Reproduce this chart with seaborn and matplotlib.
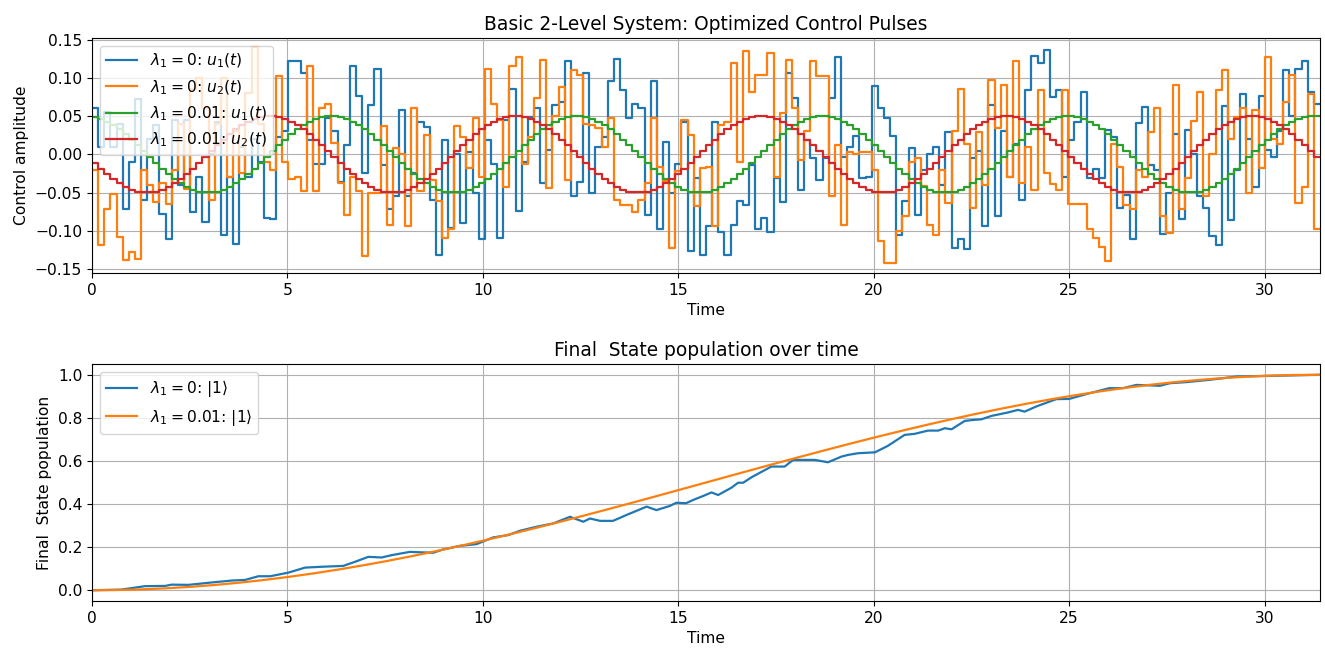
import numpy as np
import matplotlib
matplotlib.use("Agg")
import matplotlib.pyplot as plt
import seaborn as sns

# ---------------- data ----------------
T_END = 10 * np.pi
N_STEPS = 200

u1_lam0 = [
    0.060, 0.010, 0.055, 0.010, 0.040, -0.071, -0.010, 0.072, -0.060, 0.020,
    0.038, -0.078, -0.110, 0.045, -0.040, 0.045, -0.075, -0.030, -0.089, 0.000,
    0.042, -0.105, -0.030, -0.117, 0.010, -0.030, 0.020, -0.010, -0.083, -0.085,
    0.023, 0.030, 0.122, 0.122,
    0.106, 0.019, -0.012, -0.012, 0.047, 0.030, -0.036, 0.012, 0.115, 0.076,
    -0.025, 0.064, 0.111, -0.014, -0.072, -0.054, 0.058, -0.054, -0.025, 0.042,
    0.036, -0.060, -0.131, 0.019, -0.096, 0.000, -0.090, 0.003, -0.050, -0.111,
    0.019, -0.012, -0.109,
    0.045, 0.086, -0.074, -0.010, 0.049, 0.060, -0.038, 0.006, 0.064, 0.068,
    0.122, -0.055, -0.036, 0.106, -0.051, 0.010, 0.023, 0.096, 0.125, 0.084,
    0.048, 0.066, 0.060, -0.079, 0.096, -0.098, 0.016, -0.050, -0.012, 0.042,
    -0.126, -0.031, -0.131,
    -0.094, 0.042, -0.102, -0.131, -0.092, -0.061, -0.066, -0.014, -0.097, -0.083,
    -0.102, -0.031, -0.062, 0.106, 0.073, -0.046, 0.019, -0.005, -0.033, -0.005,
    0.073, 0.127, -0.003, 0.010, 0.024, -0.031, -0.030, 0.089, 0.060, 0.047,
    0.024, -0.105, -0.061, 0.008,
    -0.079, -0.020, 0.000, 0.010, -0.040, 0.029, -0.122, -0.111, -0.124, -0.005,
    0.005, -0.094, 0.064, -0.081, 0.030, -0.029, 0.013, -0.059, 0.084, 0.129,
    0.120, 0.136, 0.075, 0.084, -0.030, 0.019, 0.042, 0.081, -0.031, -0.019,
    -0.031, 0.032, 0.023,
    -0.070, -0.053, -0.111, 0.041, 0.062, -0.014, -0.020, -0.104, -0.050, 0.027,
    -0.084, 0.032, 0.000, -0.054, -0.070, -0.107, -0.118, 0.063, -0.086, -0.020,
    0.079, 0.020, -0.042, 0.076, 0.006, -0.004, 0.030, 0.110, 0.050, 0.112,
    0.122, 0.081, 0.066,
]

u2_lam0 = [
    -0.021, -0.118, -0.072, -0.052, -0.108, -0.138, -0.128, -0.137, -0.020, -0.040,
    -0.062, -0.038, -0.065, -0.020, 0.040, -0.045, 0.085, 0.100, 0.060, -0.060,
    0.040, 0.100, -0.030, 0.030, -0.025, 0.080, 0.140, 0.040, -0.010, -0.020,
    0.103, -0.010, -0.032, -0.030,
    -0.048, 0.116, -0.048, 0.060, 0.066, 0.015, -0.038, -0.079, -0.029, -0.048,
    -0.133, -0.050, -0.050, 0.037, -0.092, 0.008, 0.000, -0.094, 0.060, -0.048,
    0.025, -0.033, -0.061, -0.109, -0.097, 0.037, 0.023, -0.018, 0.048, -0.030,
    0.112, 0.066, 0.045,
    -0.042, 0.116, 0.127, -0.012, 0.023, 0.073, 0.123, -0.044, 0.050, 0.088,
    -0.034, 0.110, 0.104, 0.040, 0.038, 0.034, 0.010, 0.048, -0.059, -0.066,
    -0.066, -0.075, -0.059, -0.038, 0.048, -0.016, -0.035, -0.122, -0.022, 0.045,
    0.025, -0.068, -0.018,
    -0.016, -0.094, 0.038, 0.042, 0.119, -0.010, 0.135, 0.081, 0.104, 0.104,
    0.133, -0.029, 0.054, 0.123, 0.060, -0.008, 0.030, 0.122, 0.103, 0.103,
    -0.055, 0.012, -0.092, 0.003, 0.000, 0.003, 0.003, -0.020, -0.113, -0.142,
    -0.142, -0.100, -0.080, -0.010,
    -0.005, -0.041, -0.092, -0.106, -0.020, -0.063, 0.030, 0.086, 0.014, -0.070,
    0.029, -0.040, 0.097, 0.035, 0.090, -0.030, 0.122, -0.038, 0.010, -0.046,
    0.084, -0.024, -0.039, -0.047, 0.084, -0.065, -0.065, -0.065, -0.097, -0.109,
    -0.121, -0.139, 0.014,
    -0.016, -0.066, -0.072, -0.020, -0.029, 0.029, 0.060, -0.081, -0.103, 0.090,
    -0.072, -0.031, 0.044, 0.081, -0.055, 0.000, 0.084, 0.110, 0.020, 0.049,
    0.061, -0.050, 0.058, -0.018, 0.127, 0.020, 0.013, 0.068, 0.104, -0.063,
    -0.042, 0.079, -0.098,
]

u1_lam001 = [
    0.0486, 0.0462, 0.0426, 0.0380, 0.0325, 0.0261, 0.0191, 0.0117, 0.0039, -0.0039,
    -0.0117, -0.0191, -0.0261, -0.0325, -0.0380, -0.0426, -0.0462, -0.0486, -0.0498, -0.0498,
    -0.0486, -0.0462, -0.0426, -0.0380, -0.0325, -0.0261, -0.0191, -0.0117, -0.0039, 0.0039,
    0.0117, 0.0191, 0.0261, 0.0325, 0.0380, 0.0426, 0.0462, 0.0486, 0.0498, 0.0498,
    0.0486, 0.0462, 0.0426, 0.0380, 0.0325, 0.0261, 0.0191, 0.0117, 0.0039, -0.0039,
    -0.0117, -0.0191, -0.0261, -0.0325, -0.0380, -0.0426, -0.0462, -0.0486, -0.0498, -0.0498,
    -0.0486, -0.0462, -0.0426, -0.0380, -0.0325, -0.0261, -0.0191, -0.0117, -0.0039, 0.0039,
    0.0117, 0.0191, 0.0261, 0.0325, 0.0380, 0.0426, 0.0462, 0.0486, 0.0498, 0.0498,
    0.0486, 0.0462, 0.0426, 0.0380, 0.0325, 0.0261, 0.0191, 0.0117, 0.0039, -0.0039,
    -0.0117, -0.0191, -0.0261, -0.0325, -0.0380, -0.0426, -0.0462, -0.0486, -0.0498, -0.0498,
    -0.0486, -0.0462, -0.0426, -0.0380, -0.0325, -0.0261, -0.0191, -0.0117, -0.0039, 0.0039,
    0.0117, 0.0191, 0.0261, 0.0325, 0.0380, 0.0426, 0.0462, 0.0486, 0.0498, 0.0498,
    0.0486, 0.0462, 0.0426, 0.0380, 0.0325, 0.0261, 0.0191, 0.0117, 0.0039, -0.0039,
    -0.0117, -0.0191, -0.0261, -0.0325, -0.0380, -0.0426, -0.0462, -0.0486, -0.0498, -0.0498,
    -0.0486, -0.0462, -0.0426, -0.0380, -0.0325, -0.0261, -0.0191, -0.0117, -0.0039, 0.0039,
    0.0117, 0.0191, 0.0261, 0.0325, 0.0380, 0.0426, 0.0462, 0.0486, 0.0498, 0.0498,
    0.0486, 0.0462, 0.0426, 0.0380, 0.0325, 0.0261, 0.0191, 0.0117, 0.0039, -0.0039,
    -0.0117, -0.0191, -0.0261, -0.0325, -0.0380, -0.0426, -0.0462, -0.0486, -0.0498, -0.0498,
    -0.0486, -0.0462, -0.0426, -0.0380, -0.0325, -0.0261, -0.0191, -0.0117, -0.0039, 0.0039,
    0.0117, 0.0191, 0.0261, 0.0325, 0.0380, 0.0426, 0.0462, 0.0486, 0.0498, 0.0498,
]

u2_lam001 = [
    -0.0117, -0.0191, -0.0261, -0.0325, -0.0380, -0.0426, -0.0462, -0.0486, -0.0498, -0.0498,
    -0.0486, -0.0462, -0.0426, -0.0380, -0.0325, -0.0261, -0.0191, -0.0117, -0.0039, 0.0039,
    0.0117, 0.0191, 0.0261, 0.0325, 0.0380, 0.0426, 0.0462, 0.0486, 0.0498, 0.0498,
    0.0486, 0.0462, 0.0426, 0.0380, 0.0325, 0.0261, 0.0191, 0.0117, 0.0039, -0.0039,
    -0.0117, -0.0191, -0.0261, -0.0325, -0.0380, -0.0426, -0.0462, -0.0486, -0.0498, -0.0498,
    -0.0486, -0.0462, -0.0426, -0.0380, -0.0325, -0.0261, -0.0191, -0.0117, -0.0039, 0.0039,
    0.0117, 0.0191, 0.0261, 0.0325, 0.0380, 0.0426, 0.0462, 0.0486, 0.0498, 0.0498,
    0.0486, 0.0462, 0.0426, 0.0380, 0.0325, 0.0261, 0.0191, 0.0117, 0.0039, -0.0039,
    -0.0117, -0.0191, -0.0261, -0.0325, -0.0380, -0.0426, -0.0462, -0.0486, -0.0498, -0.0498,
    -0.0486, -0.0462, -0.0426, -0.0380, -0.0325, -0.0261, -0.0191, -0.0117, -0.0039, 0.0039,
    0.0117, 0.0191, 0.0261, 0.0325, 0.0380, 0.0426, 0.0462, 0.0486, 0.0498, 0.0498,
    0.0486, 0.0462, 0.0426, 0.0380, 0.0325, 0.0261, 0.0191, 0.0117, 0.0039, -0.0039,
    -0.0117, -0.0191, -0.0261, -0.0325, -0.0380, -0.0426, -0.0462, -0.0486, -0.0498, -0.0498,
    -0.0486, -0.0462, -0.0426, -0.0380, -0.0325, -0.0261, -0.0191, -0.0117, -0.0039, 0.0039,
    0.0117, 0.0191, 0.0261, 0.0325, 0.0380, 0.0426, 0.0462, 0.0486, 0.0498, 0.0498,
    0.0486, 0.0462, 0.0426, 0.0380, 0.0325, 0.0261, 0.0191, 0.0117, 0.0039, -0.0039,
    -0.0117, -0.0191, -0.0261, -0.0325, -0.0380, -0.0426, -0.0462, -0.0486, -0.0498, -0.0498,
    -0.0486, -0.0462, -0.0426, -0.0380, -0.0325, -0.0261, -0.0191, -0.0117, -0.0039, 0.0039,
    0.0117, 0.0191, 0.0261, 0.0325, 0.0380, 0.0426, 0.0462, 0.0486, 0.0498, 0.0498,
    0.0486, 0.0462, 0.0426, 0.0380, 0.0325, 0.0261, 0.0191, 0.0117, 0.0039, -0.0039,
]

pulse_labels = [
    r"$\lambda_1 = 0$: $u_1(t)$",
    r"$\lambda_1 = 0$: $u_2(t)$",
    r"$\lambda_1 = 0.01$: $u_1(t)$",
    r"$\lambda_1 = 0.01$: $u_2(t)$",
]

# population of |1> for lambda_1 = 0 (read points)
pop_t_lam0 = [
    0.0, 0.76, 1.36, 1.87, 2.04, 2.47, 3.06, 3.58, 3.92, 4.26, 4.56, 5.03, 5.45,
    5.88, 6.43, 6.73, 7.07, 7.41, 7.67, 8.13, 8.73, 8.98, 9.41, 9.84, 10.26,
    10.65, 10.95, 11.38, 11.80, 12.23, 12.57, 12.74, 13.00, 13.33, 13.67, 14.19,
    14.44, 14.78, 14.95, 15.20, 15.38, 15.63, 15.85, 16.02, 16.36, 16.53, 16.66,
    16.87, 17.38, 17.72, 17.94, 18.49, 18.83, 19.17, 19.34, 19.60, 20.03, 20.36,
    20.79, 21.05, 21.39, 21.65, 21.82, 21.99, 22.33, 22.58, 22.75, 23.01, 23.43,
    23.69, 23.86, 24.16, 24.67, 25.00, 25.43, 26.03, 26.38, 26.72, 27.32, 27.58,
    28.00, 28.61, 29.29, 30.15, 31.42,
]
pop_lam0 = [
    0.000, 0.003, 0.019, 0.020, 0.026, 0.025, 0.036, 0.045, 0.048, 0.065, 0.065,
    0.082, 0.105, 0.109, 0.113, 0.132, 0.155, 0.152, 0.163, 0.178, 0.174, 0.189,
    0.206, 0.214, 0.245, 0.256, 0.276, 0.295, 0.310, 0.341, 0.318, 0.333, 0.322,
    0.322, 0.349, 0.388, 0.372, 0.391, 0.406, 0.404, 0.419, 0.437, 0.454, 0.442,
    0.476, 0.499, 0.499, 0.524, 0.574, 0.574, 0.605, 0.605, 0.594, 0.620, 0.628,
    0.636, 0.640, 0.670, 0.721, 0.726, 0.741, 0.741, 0.752, 0.747, 0.786, 0.791,
    0.793, 0.809, 0.825, 0.837, 0.829, 0.853, 0.887, 0.888, 0.910, 0.938, 0.938,
    0.953, 0.949, 0.961, 0.966, 0.977, 0.992, 0.995, 1.000,
]

# population of |1> for lambda_1 = 0.01 (51 evenly spaced samples over [0, T])
pop_lam001 = [
    0.0000, 0.0010, 0.0039, 0.0089, 0.0157, 0.0245, 0.0351, 0.0476, 0.0619, 0.0778,
    0.0955, 0.1148, 0.1355, 0.1577, 0.1813, 0.2061, 0.2321, 0.2591, 0.2871, 0.3159,
    0.3455, 0.3757, 0.4063, 0.4373, 0.4686, 0.5000, 0.5314, 0.5627, 0.5937, 0.6243,
    0.6545, 0.6841, 0.7129, 0.7409, 0.7679, 0.7939, 0.8187, 0.8423, 0.8645, 0.8853,
    0.9045, 0.9222, 0.9382, 0.9524, 0.9649, 0.9755, 0.9843, 0.9911, 0.9961, 0.9990,
    1.0000,
]
pop_labels = [r"$\lambda_1 = 0$: $|1\rangle$", r"$\lambda_1 = 0.01$: $|1\rangle$"]

# ---------------- figure ----------------
colors = ["#1f77b4", "#ff7f0e", "#2ca02c", "#d62728"]
plt.rcParams["font.size"] = 11.2
plt.rcParams["axes.titlesize"] = 13.4
plt.rcParams["axes.labelsize"] = 11.2
plt.rcParams["xtick.labelsize"] = 11.2
plt.rcParams["ytick.labelsize"] = 11.2
plt.rcParams["legend.fontsize"] = 11.2

fig = plt.figure(figsize=(13.25, 6.52), dpi=100)
ax1 = fig.add_axes([0.0694, 0.5813, 0.9268, 0.3604])
ax2 = fig.add_axes([0.0694, 0.0782, 0.9268, 0.3635])

edges = np.linspace(0, T_END, N_STEPS + 1)
for vals, lab, col in zip([u1_lam0, u2_lam0, u1_lam001, u2_lam001], pulse_labels, colors):
    yv = np.append(np.asarray(vals), vals[-1])
    sns.lineplot(x=edges, y=yv, ax=ax1, drawstyle="steps-post", color=col,
                 label=lab, linewidth=1.6, sort=False, estimator=None)

ax1.set_xlim(0, T_END)
ax1.set_ylim(-0.155, 0.152)
ax1.set_yticks([-0.15, -0.10, -0.05, 0.00, 0.05, 0.10, 0.15])
ax1.set_title("Basic 2-Level System: Optimized Control Pulses")
ax1.set_xlabel("Time")
ax1.set_ylabel("Control amplitude")
ax1.grid(True)
ax1.legend(loc="upper left")

t_smooth = np.linspace(0, T_END, len(pop_lam001))
sns.lineplot(x=pop_t_lam0, y=pop_lam0, ax=ax2, color=colors[0], label=pop_labels[0],
             linewidth=1.6, sort=False, estimator=None)
sns.lineplot(x=t_smooth, y=pop_lam001, ax=ax2, color=colors[1], label=pop_labels[1],
             linewidth=1.6, sort=False, estimator=None)
ax2.set_xlim(0, T_END)
ax2.set_ylim(-0.05, 1.05)
ax2.set_title("Final  State population over time")
ax2.set_xlabel("Time")
ax2.set_ylabel("Final  State population")
ax2.grid(True)
ax2.legend(loc="upper left")

fig.savefig("out.png", dpi=100)
